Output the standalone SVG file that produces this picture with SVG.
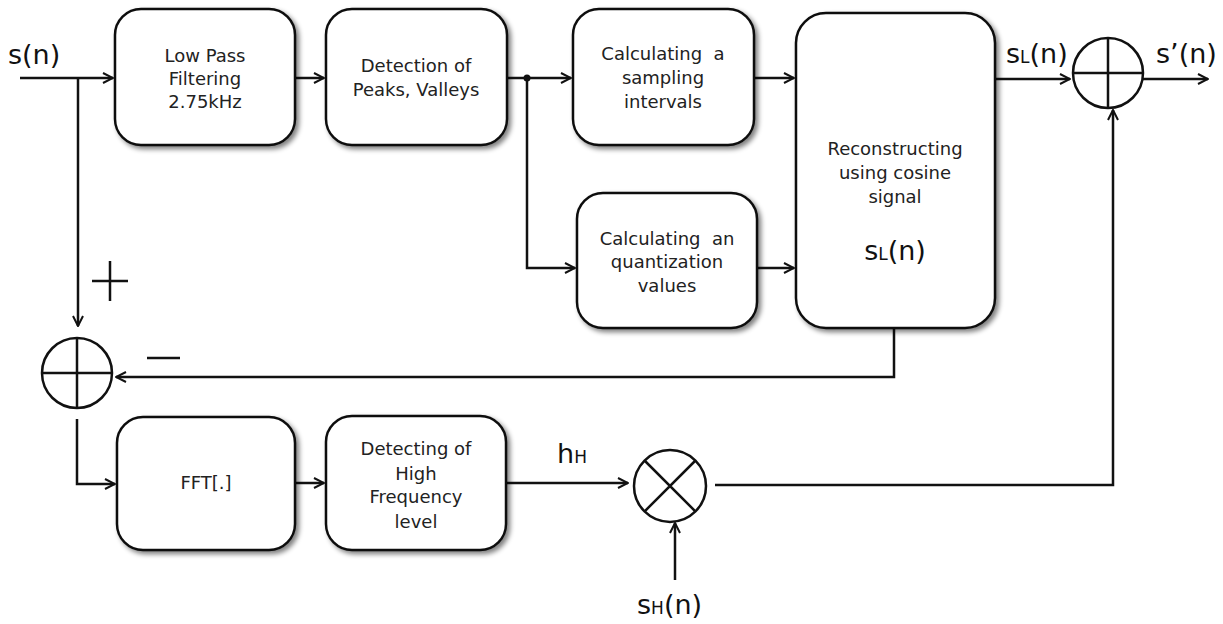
<svg xmlns="http://www.w3.org/2000/svg" width="1223" height="624" viewBox="0 0 1223 624">
<defs>
<filter id="sh" x="-10%" y="-10%" width="130%" height="130%">
<feGaussianBlur in="SourceAlpha" stdDeviation="2.5"/>
<feOffset dx="3" dy="3" result="b"/>
<feComponentTransfer><feFuncA type="linear" slope="0.5"/></feComponentTransfer>
<feMerge><feMergeNode/><feMergeNode in="SourceGraphic"/></feMerge>
</filter>
<marker id="ar" viewBox="0 0 12 12" refX="11" refY="6" markerWidth="12" markerHeight="12" markerUnits="userSpaceOnUse" orient="auto">
<path d="M1,1 L11,6 L1,11" fill="none" stroke="#111" stroke-width="2"/>
</marker>
<style>
.box{fill:#fff;stroke:#111;stroke-width:2.5;filter:url(#sh)}
.t{font-family:"DejaVu Sans","Open Sans",sans-serif;font-size:18px;fill:#222;text-anchor:middle}
.big{font-family:"DejaVu Sans","Open Sans",sans-serif;font-size:27px;fill:#111}
.sub{font-size:17px}
.ln{fill:none;stroke:#111;stroke-width:2.5}
.c{fill:#fff;stroke:#111;stroke-width:2.5}
</style>
</defs>
<rect width="1223" height="624" fill="#fff"/>

<g id="connectors" class="ln">
<path d="M20,78 H113" marker-end="url(#ar)"/>
<path d="M78,78 V326" marker-end="url(#ar)"/>
<path d="M295,78 H324" marker-end="url(#ar)"/>
<path d="M507,78 H571" marker-end="url(#ar)"/>
<path d="M527,78 V268 H575" marker-end="url(#ar)"/>
<path d="M754,78 H794" marker-end="url(#ar)"/>
<path d="M757,268 H794" marker-end="url(#ar)"/>
<path d="M995,79 H1070" marker-end="url(#ar)"/>
<path d="M1143,79 H1208" marker-end="url(#ar)"/>
<path d="M894,328 V377 H116" marker-end="url(#ar)"/>
<path d="M77,419 V484 H115" marker-end="url(#ar)"/>
<path d="M295,483 H324" marker-end="url(#ar)"/>
<path d="M506,483 H628" marker-end="url(#ar)"/>
<path d="M715,485 H1113 V110" marker-end="url(#ar)"/>
<path d="M675,580 V523" marker-end="url(#ar)"/>
<circle cx="527" cy="78" r="3.5" fill="#111" stroke="none"/>
</g>

<g id="sn"><text class="big" x="8" y="64">s(n)</text></g>

<g id="lpf">
<rect class="box" x="115" y="9" width="180" height="136" rx="26"/>
<text class="t" x="205" y="62">Low Pass</text>
<text class="t" x="205" y="85">Filtering</text>
<text class="t" x="205" y="108">2.75kHz</text>
</g>

<g id="detect">
<rect class="box" x="326" y="9" width="181" height="136" rx="26"/>
<text class="t" x="416" y="72">Detection of</text>
<text class="t" x="416" y="96">Peaks, Valleys</text>
</g>

<g id="sampling">
<rect class="box" x="573" y="9" width="181" height="136" rx="26"/>
<text class="t" x="663" y="60">Calculating&#160; a</text>
<text class="t" x="663" y="84">sampling</text>
<text class="t" x="663" y="108">intervals</text>
</g>

<g id="quant">
<rect class="box" x="577" y="193" width="180" height="135" rx="26"/>
<text class="t" x="667" y="245">Calculating&#160; an</text>
<text class="t" x="667" y="268">quantization</text>
<text class="t" x="667" y="292">values</text>
</g>

<g id="recon">
<rect class="box" x="796" y="13" width="199" height="315" rx="30"/>
<text class="t" x="895" y="155">Reconstructing</text>
<text class="t" x="895" y="179">using cosine</text>
<text class="t" x="895" y="203">signal</text>
<text class="big" x="895" y="260" text-anchor="middle">s<tspan class="sub">L</tspan>(n)</text>
</g>

<g id="slabel"><text class="big" x="1006" y="63">s<tspan class="sub">L</tspan>(n)</text></g>

<g id="sumR">
<circle class="c" cx="1108" cy="73" r="35"/>
<path class="ln" d="M1073,73 H1143 M1108,38 V108"/>
</g>
<g id="sprime"><text class="big" x="1156" y="63">s’(n)</text></g>

<g id="sumL">
<circle class="c" cx="77" cy="373" r="35"/>
<path class="ln" d="M42,373 H112 M77,338 V408"/>
</g>
<g id="plus"><path class="ln" d="M92,281 H128 M110,261 V301"/></g>
<g id="minus"><path class="ln" d="M147,358 H180"/></g>

<g id="fft">
<rect class="box" x="117" y="417" width="178" height="133" rx="26"/>
<text class="t" x="206" y="489">FFT[.]</text>
</g>

<g id="high">
<rect class="box" x="326" y="416" width="180" height="134" rx="26"/>
<text class="t" x="416" y="455">Detecting of</text>
<text class="t" x="416" y="480">High</text>
<text class="t" x="416" y="503">Frequency</text>
<text class="t" x="416" y="528">level</text>
</g>

<g id="hlabel"><text class="big" x="557" y="463">h<tspan class="sub">H</tspan></text></g>

<g id="mult">
<circle class="c" cx="670" cy="486" r="36"/>
<path class="ln" d="M644.5,460.5 L695.5,511.5 M695.5,460.5 L644.5,511.5"/>
</g>

<g id="shlabel"><text class="big" x="637" y="614">s<tspan class="sub">H</tspan>(n)</text></g>
</svg>
